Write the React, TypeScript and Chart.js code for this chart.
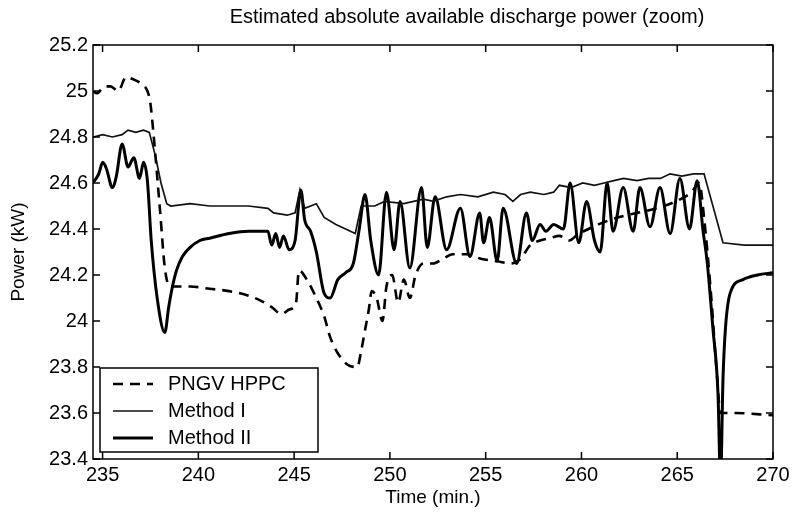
import React, { useEffect, useRef } from "react";
import { Chart, registerables } from "chart.js";

Chart.register(...registerables);

const titleText = "Estimated absolute available discharge power (zoom)";
const xAxisTitle = "Time (min.)";
const yAxisTitle = "Power (kW)";
const xRange = [234.5, 270];
const yRange = [23.4, 25.2];
const xTickValues = [235, 240, 245, 250, 255, 260, 265, 270];
const yTickValues = [23.4, 23.6, 23.8, 24, 24.2, 24.4, 24.6, 24.8, 25, 25.2];
const seriesLabels = ["PNGV HPPC", "Method I", "Method II"];

const hppcTime = [
  234.5, 234.7, 235.11, 235.41, 235.82, 236.22, 236.63, 237.04, 237.34, 237.49, 237.64, 238.0, 238.25, 238.51,
  239.57, 240.59, 241.6, 242.62, 243.22, 243.83, 244.34, 244.74, 245.1, 245.25, 245.66, 246.16, 246.57, 246.88,
  247.28, 247.79, 248.3, 248.5, 248.7, 248.9, 249.05, 249.31, 249.61, 249.82, 250.12, 250.43, 250.73, 251.04,
  251.34, 251.75, 252.26, 252.76, 253.27, 253.98, 254.79, 255.6, 256.31, 256.82, 257.33, 257.84, 258.35, 258.85,
  259.36, 259.86, 260.37, 260.88, 261.89, 262.9, 263.92, 264.93, 265.74, 266.15, 266.4, 266.76, 267.06, 267.26,
  267.97, 270.0,
];
const hppcPower = [
  25.0, 24.99, 25.02, 25.02, 25.0, 25.06, 25.05, 25.03, 25.0, 24.95, 24.83, 24.48, 24.23, 24.15,
  24.15, 24.14, 24.13, 24.11, 24.09, 24.06, 24.03, 24.05, 24.08, 24.22, 24.18, 24.1, 24.02, 23.93,
  23.86, 23.81, 23.8, 23.87, 23.96, 24.05, 24.13, 24.1, 24.0, 24.15, 24.2, 24.08, 24.18, 24.1,
  24.2, 24.25, 24.25, 24.27, 24.29, 24.29, 24.27, 24.26, 24.25, 24.27, 24.33, 24.35, 24.36, 24.37,
  24.35, 24.38, 24.4, 24.42, 24.45, 24.47, 24.49, 24.52, 24.56, 24.6, 24.45, 24.12, 23.78, 23.6,
  23.6, 23.59,
];

const methodOneTime = [
  234.5, 235.01, 235.51, 236.02, 236.33, 236.73, 237.14, 237.44, 237.75, 238.05, 238.35, 238.56, 239.57, 240.59,
  241.6, 242.62, 243.63, 243.93, 244.64, 245.05, 245.3, 245.55, 246.16, 246.57, 247.18, 247.69, 248.19, 248.5,
  249.21, 249.72, 250.73, 251.75, 252.26, 252.96, 253.68, 254.59, 255.4, 256.01, 256.42, 256.82, 257.33, 258.04,
  258.55, 258.85, 259.46, 260.07, 260.68, 261.18, 261.69, 262.2, 262.9, 263.51, 264.12, 264.63, 265.24, 265.85,
  266.4, 267.39, 268.5, 270.0,
];
const methodOnePower = [
  24.8, 24.81, 24.8, 24.81, 24.83, 24.82, 24.83, 24.82, 24.72, 24.6, 24.51, 24.5, 24.51, 24.5,
  24.5, 24.5, 24.49, 24.47, 24.46, 24.47, 24.57, 24.49, 24.51, 24.45, 24.42, 24.4, 24.38, 24.5,
  24.5, 24.52, 24.51, 24.53, 24.52, 24.54, 24.55, 24.54, 24.56, 24.55, 24.52, 24.55, 24.56, 24.55,
  24.56, 24.59, 24.58, 24.6, 24.59, 24.6, 24.61, 24.62, 24.61, 24.62, 24.62, 24.64, 24.63, 24.64,
  24.64, 24.34, 24.33, 24.33,
];

const methodTwoTime = [
  234.5, 234.8, 235.01, 235.21, 235.51, 235.72, 236.02, 236.33, 236.63, 236.93, 237.14, 237.34, 237.54, 237.85,
  238.25, 238.45, 238.65, 238.86, 239.17, 239.57, 240.08, 240.59, 241.6, 242.62, 243.63, 243.83, 244.04, 244.24,
  244.44, 244.74, 245.05, 245.35, 245.55, 245.86, 246.16, 246.57, 246.88, 247.28, 247.69, 248.09, 248.4, 248.7,
  249.0, 249.41, 249.82, 250.22, 250.53, 251.04, 251.65, 251.95, 252.36, 252.96, 253.68, 254.18, 254.69, 254.89,
  255.2, 255.6, 255.91, 256.62, 257.13, 257.43, 257.84, 258.14, 258.55, 259.06, 259.41, 259.86, 260.27, 260.68,
  260.98, 261.34, 261.65, 262.18, 262.7, 263.05, 263.58, 264.1, 264.63, 265.14, 265.64, 266.04, 266.35, 266.56,
  266.86, 267.13, 267.26, 267.39, 267.52, 267.76, 268.43, 269.19, 270.0,
];
const methodTwoPower = [
  24.6, 24.64, 24.69, 24.66, 24.58, 24.63, 24.77, 24.67, 24.71, 24.62, 24.69, 24.61, 24.35, 24.1,
  23.95, 24.06, 24.15, 24.22, 24.28, 24.32, 24.35, 24.36, 24.38, 24.39, 24.39, 24.33, 24.38, 24.32,
  24.37, 24.31, 24.35, 24.57, 24.44, 24.39, 24.3, 24.12, 24.1, 24.18, 24.21, 24.25, 24.4, 24.55,
  24.35, 24.2, 24.56, 24.31, 24.52, 24.23, 24.58, 24.32, 24.54, 24.31, 24.49, 24.28, 24.47, 24.34,
  24.45, 24.26, 24.49, 24.25, 24.47, 24.35, 24.42, 24.39, 24.42, 24.4, 24.6, 24.34, 24.52, 24.35,
  24.3, 24.6, 24.39, 24.58, 24.39, 24.58, 24.41, 24.58, 24.38, 24.62, 24.4, 24.61, 24.39, 24.26,
  23.97, 23.68, 23.3, 23.75, 23.97, 24.12, 24.18, 24.2, 24.21,
];

const FONT = '"Liberation Sans", Arial, Helvetica, sans-serif';

const toPoints = (xs: number[], ys: number[]) => xs.map((x, i) => ({ x, y: ys[i] }));

const framePlugin = {
  id: "matlabFrame",
  afterDraw(chart: any) {
    const { ctx, chartArea: a, scales } = chart;
    ctx.save();
    ctx.strokeStyle = "#000";
    ctx.lineWidth = 1.5;
    ctx.setLineDash([]);
    ctx.strokeRect(a.left, a.top, a.right - a.left, a.bottom - a.top);
    const tl = 7;
    ctx.beginPath();
    scales.x.ticks.forEach((t: any) => {
      const p = scales.x.getPixelForValue(t.value);
      ctx.moveTo(p, a.bottom);
      ctx.lineTo(p, a.bottom - tl);
      ctx.moveTo(p, a.top);
      ctx.lineTo(p, a.top + tl);
    });
    scales.y.ticks.forEach((t: any) => {
      const p = scales.y.getPixelForValue(t.value);
      ctx.moveTo(a.left, p);
      ctx.lineTo(a.left + tl, p);
      ctx.moveTo(a.right, p);
      ctx.lineTo(a.right - tl, p);
    });
    ctx.stroke();

    const bx = a.left + 7;
    const bw = 218;
    const bh = 84;
    const by = a.bottom - 7 - bh;
    ctx.fillStyle = "#fff";
    ctx.fillRect(bx, by, bw, bh);
    ctx.lineWidth = 1.5;
    ctx.strokeRect(bx, by, bw, bh);
    ctx.font = `20px ${FONT}`;
    ctx.textAlign = "left";
    ctx.textBaseline = "middle";
    chart.data.datasets.forEach((ds: any, i: number) => {
      const y = by + 16 + i * 27;
      ctx.beginPath();
      ctx.strokeStyle = ds.borderColor;
      ctx.lineWidth = ds.borderWidth;
      ctx.setLineDash(ds.borderDash || []);
      ctx.moveTo(bx + 13, y);
      ctx.lineTo(bx + 53, y);
      ctx.stroke();
      ctx.setLineDash([]);
      ctx.fillStyle = "#000";
      ctx.fillText(ds.label, bx + 68, y);
    });

    ctx.font = `20px ${FONT}`;
    ctx.textAlign = "center";
    ctx.textBaseline = "middle";
    ctx.fillStyle = "#000";
    ctx.fillText(titleText, (a.left + a.right) / 2 + 34, 17);
    ctx.restore();
  },
};

export default function App() {
  const canvasRef = useRef<HTMLCanvasElement | null>(null);

  useEffect(() => {
    const canvas = canvasRef.current;
    if (!canvas) return;
    const chart = new Chart(canvas, {
      type: "line",
      data: {
        datasets: [
          {
            label: seriesLabels[0],
            data: toPoints(hppcTime, hppcPower),
            borderColor: "#000",
            borderWidth: 2.6,
            borderDash: [10, 7],
            pointRadius: 0,
            cubicInterpolationMode: "monotone",
            clip: 0,
          },
          {
            label: seriesLabels[1],
            data: toPoints(methodOneTime, methodOnePower),
            borderColor: "#111",
            borderWidth: 1.7,
            pointRadius: 0,
            tension: 0,
            clip: 0,
          },
          {
            label: seriesLabels[2],
            data: toPoints(methodTwoTime, methodTwoPower),
            borderColor: "#000",
            borderWidth: 3,
            pointRadius: 0,
            cubicInterpolationMode: "monotone",
            clip: 0,
          },
        ],
      },
      options: {
        responsive: false,
        animation: false,
        layout: { padding: { top: 45, right: 25, left: 0, bottom: 0 } },
        plugins: {
          legend: { display: false },
          title: { display: false },
          tooltip: { enabled: false },
        },
        scales: {
          x: {
            type: "linear",
            min: xRange[0],
            max: xRange[1],
            afterBuildTicks: (scale: any) => {
              scale.ticks = xTickValues.map((v) => ({ value: v }));
            },
            afterFit: (scale: any) => {
              scale.height = 59;
            },
            grid: { display: false, drawTicks: false },
            border: { display: false },
            ticks: {
              color: "#000",
              font: { family: FONT, size: 20 },
              padding: 4,
              maxRotation: 0,
              autoSkip: false,
              callback: (v: any) => String(v),
            },
            title: {
              display: true,
              text: xAxisTitle,
              color: "#000",
              font: { family: FONT, size: 19 },
              padding: { top: 0, bottom: 9 },
            },
          },
          y: {
            type: "linear",
            min: yRange[0],
            max: yRange[1],
            afterBuildTicks: (scale: any) => {
              scale.ticks = yTickValues.map((v) => ({ value: v }));
            },
            afterFit: (scale: any) => {
              scale.width = 93;
            },
            grid: { display: false, drawTicks: false },
            border: { display: false },
            ticks: {
              color: "#000",
              font: { family: FONT, size: 20 },
              padding: 5,
              autoSkip: false,
              callback: (v: any) => String(Number(Number(v).toFixed(1))),
            },
            title: {
              display: true,
              text: yAxisTitle,
              color: "#000",
              font: { family: FONT, size: 19 },
              padding: { top: 7, bottom: 0 },
            },
          },
        },
      },
      plugins: [framePlugin],
    });
    return () => chart.destroy();
  }, []);

  return (
    <div style={{ position: "fixed", left: 0, top: 0, width: 798, height: 518, background: "#fff" }}>
      <canvas ref={canvasRef} width={798} height={518} style={{ display: "block" }} />
    </div>
  );
}
